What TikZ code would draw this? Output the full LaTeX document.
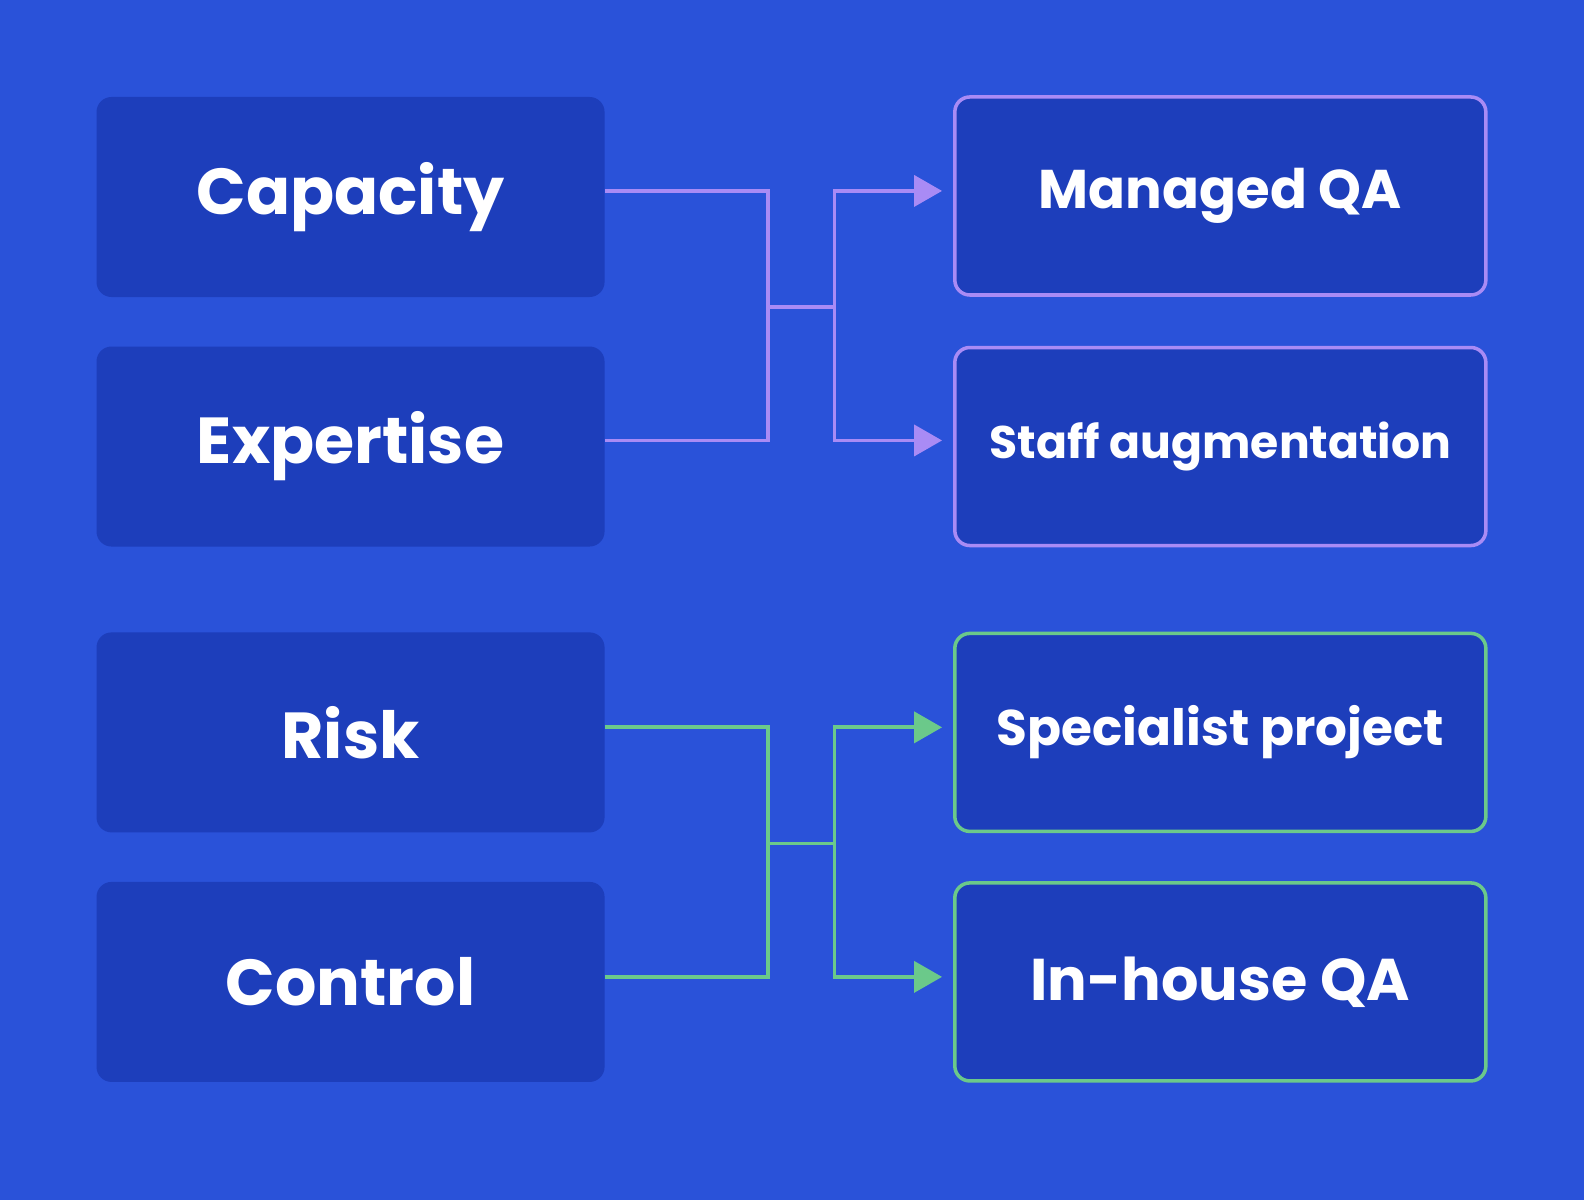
\documentclass[tikz,border=0pt]{standalone}
\usepackage{fontspec}
\setmainfont{Poppins}
\usetikzlibrary{arrows.meta}
\definecolor{bgblue}{HTML}{2A52D9}
\definecolor{boxblue}{HTML}{1D3EBB}
\definecolor{lilac}{HTML}{A98BF5}
\definecolor{mint}{HTML}{6BC98A}

\tikzset{
  factor/.style={fill=boxblue, rounded corners=0.3cm, minimum width=10.16cm, minimum height=4cm,
    text=white, font=\fontsize{37}{42}\selectfont\bfseries, inner sep=0pt},
  option/.style={factor, draw=#1, line width=2pt, minimum width=10.62cm, minimum height=3.96cm},
  link/.style={draw=#1, line width=2.2pt},
  pointer/.style={link=#1, -{Triangle[length=0.56cm,width=0.62cm]}, shorten >=0.22cm}
}

\begin{document}
\begin{tikzpicture}[x=0.0202cm, y=-0.0202cm]
\fill[bgblue] (0,0) rectangle (1568,1188);
\useasboundingbox (0,0) rectangle (1568,1188);

% left column
\node[factor] (cap) at (347,195) {Capacity};
\node[factor] (exp) at (347,442) {Expertise};
\node[factor] (risk) at (347,725) {Risk};
\node[factor] (ctrl) at (347,972) {Control};

% right column
\node[option=lilac, font=\fontsize{31}{36}\selectfont\bfseries] (mqa) at (1208,194) {Managed QA};
\node[option=lilac, font=\fontsize{26}{31}\selectfont\bfseries] (staff) at (1208,442) {Staff augmentation};
\node[option=mint, font=\fontsize{28.5}{33}\selectfont\bfseries] (spec) at (1208,725) {Specialist project};
\node[option=mint, font=\fontsize{33.5}{38}\selectfont\bfseries] (inh) at (1208,972) {In-house QA};

% junctions
\coordinate (ja) at (760,304);
\coordinate (jb) at (826,304);
\coordinate (jc) at (760,835);
\coordinate (jd) at (826,835);

% upper links
\draw[link=lilac] (cap.east |- 0,189) -| (ja) -- (jb);
\draw[link=lilac] (exp.east |- 0,436) -| (ja);
\draw[pointer=lilac] (jb) |- (mqa.west |- 0,189);
\draw[pointer=lilac] (jb) |- (staff.west |- 0,436);

% lower links
\draw[link=mint] (risk.east |- 0,720) -| (jc) -- (jd);
\draw[link=mint] (ctrl.east |- 0,967) -| (jc);
\draw[pointer=mint] (jd) |- (spec.west |- 0,720);
\draw[pointer=mint] (jd) |- (inh.west |- 0,967);
\end{tikzpicture}
\end{document}
